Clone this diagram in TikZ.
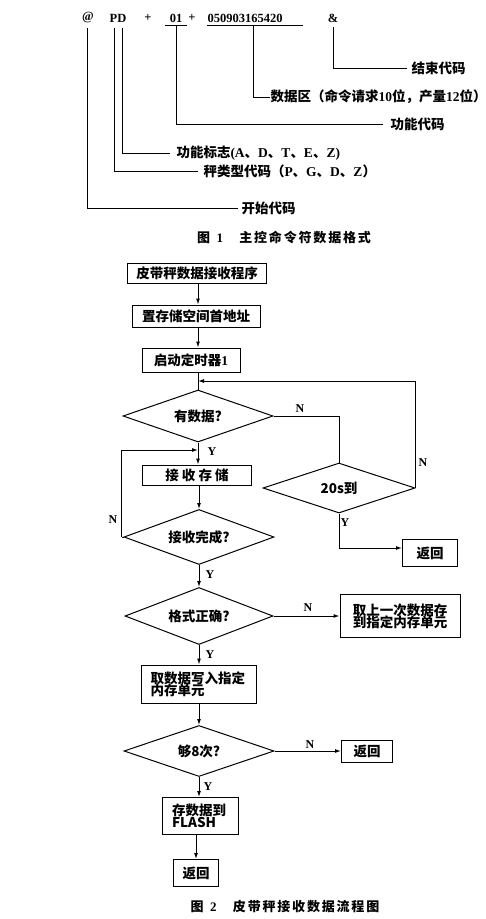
\documentclass[tikz,border=0pt]{standalone}
\usepackage{fontspec}
\setmainfont{Liberation Serif}
\newfontfamily\cjk{Noto Sans CJK SC}
\newfontfamily\cjkwide{Noto Sans CJK SC}[LetterSpace=14]
\usetikzlibrary{shapes.geometric,arrows.meta}
\newcommand\cj[1]{{\cjk #1}}
\begin{document}
\begin{tikzpicture}[x=1pt,y=-1pt, line width=1pt,
 font=\bfseries\fontsize{13.5}{15}\selectfont,
 box/.style={draw, inner sep=0pt, align=center},
 lbox/.style={draw, inner sep=0pt, align=left},
 dia/.style={draw, diamond, aspect=3, inner sep=0pt},
 arr/.style={-{Latex[length=6pt,width=4pt]}},
 yn/.style={inner sep=0pt, font=\bfseries\fontsize{12}{14}\selectfont},
 tok/.style={inner sep=0pt, font=\bfseries\fontsize{12.5}{14}\selectfont},
 desc/.style={anchor=west, inner sep=0pt, font=\bfseries\fontsize{13.5}{15}\selectfont},
 figcap/.style={inner sep=0pt, font=\bfseries\fontsize{13}{15}\selectfont}]
\useasboundingbox (0,0) rectangle (486,919);
\fill[white] (0,0) rectangle (486,919);

% ---------- Figure 1 ----------
\node[tok] (tAt) at (88,18) {@};
\node[tok] (tPD) at (118,18) {PD};
\node[tok] (tP1) at (148,18) {+};
\node[tok] (t01) at (176,18) {01};
\node[tok] (tP2) at (192,18) {+};
\node[tok,anchor=west] (tData) at (207,18) {050903165420};
\node[tok] (tEnd) at (333,18) {\&};
\draw[line width=0.8pt] ([xshift=-11pt,yshift=-7pt]t01.center) -- ([xshift=11pt,yshift=-7pt]t01.center);
\draw[line width=0.8pt] ([yshift=-7pt]tData.west) -- ++(96,0);

\node[desc] (lEnd) at (411,68) {\cj{结束代码}};
\node[desc] (lData) at (270,97) {\cj{数据区（命令请求}10\cj{位，产量}12\cj{位）}};
\node[desc] (lFun) at (390,124) {\cj{功能代码}};
\node[desc] (lFlag) at (176,153) {\cj{功能标志}(A\cj{、}D\cj{、}T\cj{、}E\cj{、}Z)};
\node[desc] (lType) at (203,171) {\cj{秤类型代码（}P\cj{、}G\cj{、}D\cj{、}Z\cj{）}};
\node[desc] (lStart) at (241,208) {\cj{开始代码}};

\draw ([yshift=-9pt]tEnd.center) |- ([xshift=-4pt]lEnd.west);
\draw ([xshift=8pt,yshift=-8pt]tData.center) |- (lData.west);
\draw ([yshift=-8pt]t01.center) |- ([xshift=-7pt]lFun.west);
\draw ([xshift=4pt,yshift=-10pt]tPD.center) |- ([xshift=-6pt]lFlag.west);
\draw ([xshift=-4pt,yshift=-10pt]tPD.center) |- ([xshift=-5pt]lType.west);
\draw ([xshift=-1pt,yshift=-10pt]tAt.center) |- ([xshift=-3pt]lStart.west);

\node[figcap] (cap1) at (284,237) {{\cjk 图}\ \ 1\quad\ {\cjkwide 主控命令符数据格式}};

% ---------- Figure 2 ----------
\node[box, minimum width=139pt, minimum height=20pt] (b1) at (197,273) {\cj{皮带秤数据接收程序}};
\node[box, minimum width=128pt, minimum height=22pt] (b2) at (196,316) {\cj{置存储空间首地址}};
\node[box, minimum width=98pt, minimum height=24pt] (b3) at (191,360) {\cj{启动定时器}1};
\coordinate (j1) at (198,381);
\node[dia, minimum width=150pt, minimum height=52pt] (d1) at (198,416) {\cj{有数据?}};
\coordinate (j2) at (198,450);
\node[box, minimum width=109pt, minimum height=20pt] (b4) at (197,475) {\cj{接\ 收\ 存\ 储}};
\node[dia, minimum width=150pt, minimum height=55pt] (d2) at (199,537) {\cj{接收完成?}};
\node[dia, minimum width=152pt, minimum height=50pt] (d3) at (339,488) {\cj{20s到}};
\node[box, minimum width=55pt, minimum height=27pt] (r1) at (430,553) {\cj{返回}};
\node[dia, minimum width=148pt, minimum height=57pt] (d4) at (199,616) {\cj{格式正确?}};
\node[box, minimum width=120pt, minimum height=43pt] (b5) at (400,616) {\cj{取上一次数据存}\\[-3pt]\cj{到指定内存单元}};
\node[lbox, minimum width=115pt, minimum height=38pt, text width=97pt, inner xsep=9pt] (b6) at (199,684) {\cj{取数据写入指定}\\[-3pt]\cj{内存单元}};
\node[dia, minimum width=150pt, minimum height=51pt] (d5) at (199,751) {\cj{够8次?}};
\node[box, minimum width=51pt, minimum height=22pt] (r2) at (367,751) {\cj{返回}};
\node[lbox, minimum width=76pt, minimum height=37pt, text width=56pt, inner xsep=10pt] (b7) at (200,816) {\cj{存数据到}\\[-3pt]\cj{FLASH}};
\node[box, minimum width=45pt, minimum height=27pt] (r3) at (196,873) {\cj{返回}};

\draw[arr] (b1.south -| d1.north) -- (b2.north -| d1.north);
\draw[arr] (b2.south -| d1.north) -- (b3.north -| d1.north);
\draw (b3.south -| d1.north) -- (d1.north);
\draw[arr] (d3.east) |- (j1);
\draw (d1.east) -| (d3.north);
\draw[arr] (d1.south) -- (b4.north -| d1.south);
\draw[arr] ([xshift=-2pt]d2.west) |- (j2);
\draw (d2.west) -- ([xshift=-2pt]d2.west);
\draw[arr] (b4.south -| d2.north) -- (d2.north);
\draw[arr] (d2.south) -- (d4.north);
\draw[arr] (d3.south) |- ([yshift=5pt]r1.west);
\draw[arr] (d4.east) -- (b5.west);
\draw[arr] (d4.south) -- (b6.north -| d4.south);
\draw[arr] (b6.south -| d5.north) -- (d5.north);
\draw[arr] (d5.east) -- (r2.west);
\draw[arr] (d5.south) -- (b7.north -| d5.south);
\draw[arr] (b7.south -| r3.north) -- (r3.north);

\node[yn] at (300,409) {N};
\node[yn] at (423,463) {N};
\node[yn] at (212,452) {Y};
\node[yn] at (113,520) {N};
\node[yn] at (345,523) {Y};
\node[yn] at (210,575) {Y};
\node[yn] at (308,608) {N};
\node[yn] at (210,655) {Y};
\node[yn] at (310,745) {N};
\node[yn] at (208,787) {Y};

\node[figcap] (cap2) at (285,907) {{\cjk 图}\ \ 2\quad\ {\cjkwide 皮带秤接收数据流程图}};
\end{tikzpicture}
\end{document}
